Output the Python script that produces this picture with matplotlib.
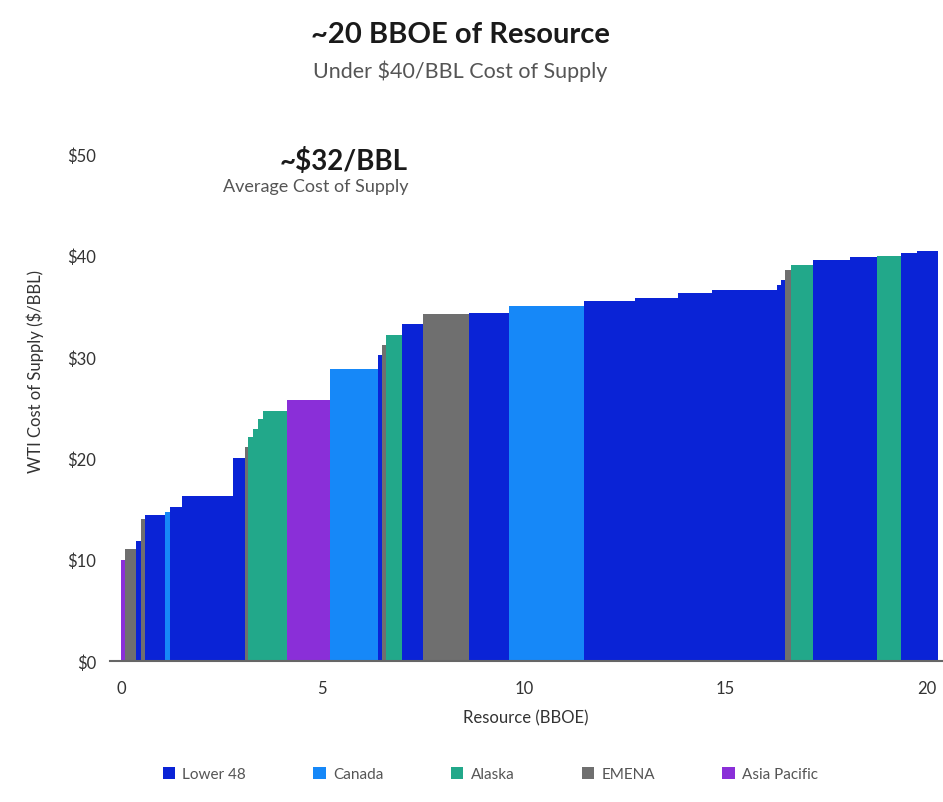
import numpy as np
import matplotlib.pyplot as plt
from matplotlib.patches import Patch

plt.rcParams['font.family'] = ['Lato', 'DejaVu Sans']

# supply curve segments, left to right (BBOE width, $/BBL cost, region)
seg_width = [0.10, 0.27, 0.12, 0.11, 0.49, 0.13, 0.29, 1.27, 0.30, 0.08,
             0.12, 0.13, 0.12, 0.58, 1.08, 1.19, 0.11, 0.10, 0.38, 0.53,
             1.14, 1.00, 1.86, 1.25, 1.08, 0.83, 1.61, 0.12, 0.09, 0.16,
             0.54, 0.91, 0.66, 0.62, 0.38, 0.53]
seg_cost = [10.0, 11.0, 11.8, 14.0, 14.4, 14.7, 15.2, 16.3, 20.0, 21.1,
            22.1, 22.9, 23.9, 24.7, 25.7, 28.8, 30.2, 31.2, 32.1, 33.2,
            34.2, 34.3, 35.0, 35.5, 35.8, 36.3, 36.6, 37.1, 37.6, 38.6,
            39.1, 39.5, 39.8, 39.9, 40.2, 40.4]
seg_region = ['Asia Pacific', 'EMENA', 'Lower 48', 'EMENA', 'Lower 48',
              'Canada', 'Lower 48', 'Lower 48', 'Lower 48', 'EMENA',
              'Alaska', 'Alaska', 'Alaska', 'Alaska', 'Asia Pacific',
              'Canada', 'Lower 48', 'EMENA', 'Alaska', 'Lower 48',
              'EMENA', 'Lower 48', 'Canada', 'Lower 48', 'Lower 48',
              'Lower 48', 'Lower 48', 'Lower 48', 'Lower 48', 'EMENA',
              'Alaska', 'Lower 48', 'Lower 48', 'Alaska', 'Lower 48',
              'Lower 48']

regions = ['Lower 48', 'Canada', 'Alaska', 'EMENA', 'Asia Pacific']
region_colors = {'Lower 48': '#0a23d6', 'Canada': '#1688f8', 'Alaska': '#22a88a',
                 'EMENA': '#6f6f6f', 'Asia Pacific': '#8a2fd8'}

x_ticks = [0, 5, 10, 15, 20]
y_ticks = [0, 10, 20, 30, 40, 50]

fig = plt.figure(figsize=(9.43, 8.03), dpi=100)
ax = fig.add_axes([0.1167, 0.1756, 0.8833, 0.6314])

left = np.concatenate([[0], np.cumsum(seg_width)[:-1]])
colors = [region_colors[r] for r in seg_region]
ax.bar(left, seg_cost, width=seg_width, align='edge', color=colors,
       linewidth=0, antialiased=False)

ax.set_xlim(-0.27, 20.4)
ax.set_ylim(0, 50)
ax.set_xticks(x_ticks)
ax.set_yticks(y_ticks)
ax.set_yticklabels([f'${v}' for v in y_ticks])
for s in ['top', 'right', 'left']:
    ax.spines[s].set_visible(False)
ax.spines['bottom'].set_color('#666666')
ax.spines['bottom'].set_linewidth(1.5)
ax.tick_params(axis='both', length=0, labelsize=12, colors='#333333')
ax.tick_params(axis='y', pad=10)
ax.tick_params(axis='x', pad=14)

fig.text(0.037, 0.537, 'WTI Cost of Supply ($/BBL)', rotation=90,
         ha='center', va='center', fontsize=12, color='#333333')
fig.text(0.557, 0.106, 'Resource (BBOE)', ha='center', va='center',
         fontsize=12, color='#333333')

fig.text(0.4878, 0.9465, '~20 BBOE of Resource', ha='center', va='baseline',
         fontsize=21, fontweight='bold', color='#1a1a1a')
fig.text(0.4878, 0.903, 'Under $40/BBL Cost of Supply', ha='center',
         va='baseline', fontsize=15.5, color='#555555')
fig.text(0.4327, 0.788, '~$32/BBL', ha='right', va='baseline',
         fontsize=20, fontweight='bold', color='#1a1a1a')
fig.text(0.4327, 0.761, 'Average Cost of Supply', ha='right', va='baseline',
         fontsize=13, color='#555555')

handles = [Patch(facecolor=region_colors[r], label=r) for r in regions]
fig.legend(handles=handles, loc='center', bbox_to_anchor=(0.52, 0.035),
           ncol=5, frameon=False, fontsize=11, handlelength=0.8,
           handleheight=0.8, handletextpad=0.5, columnspacing=4.4,
           labelcolor='#555555')

fig.savefig('out.png', dpi=100)
